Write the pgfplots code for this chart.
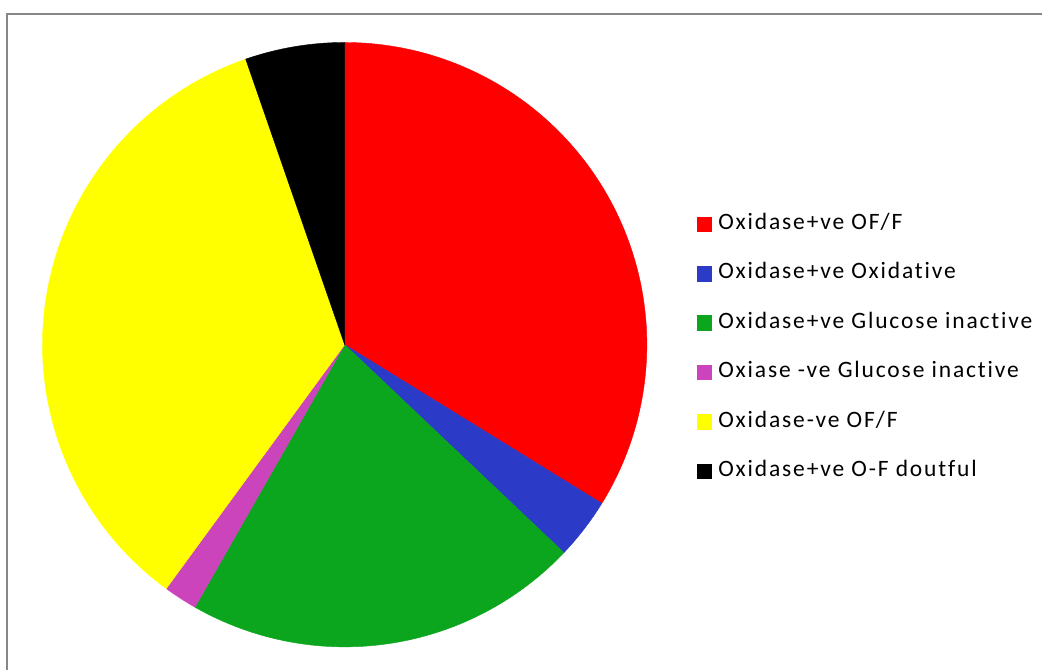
\documentclass[border=0pt]{standalone}
\usepackage{pgfplots}
\pgfplotsset{compat=1.18}
\usepackage{pgfplotstable}
\usepackage{fontspec}
\setmainfont{Carlito}[LetterSpace=7.9, Ligatures=NoCommon]

\definecolor{c0}{RGB}{255,0,0}
\definecolor{c1}{RGB}{44,58,200}
\definecolor{c2}{RGB}{12,166,30}
\definecolor{c3}{RGB}{204,68,188}
\definecolor{c4}{RGB}{255,255,0}
\definecolor{c5}{RGB}{0,0,0}
\definecolor{framegray}{RGB}{135,135,135}

\pgfplotstableread[col sep=comma]{
share,label
33.80,Oxidase+ve OF/F
3.28,Oxidase+ve Oxidative
21.17,Oxidase+ve Glucose inactive
1.80,Oxiase -ve Glucose inactive
34.64,Oxidase-ve OF/F
5.31,Oxidase+ve O-F doutful
}\piedata

\begin{document}
\begin{tikzpicture}[x=1pt,y=1pt]
\fill[white] (0,0) rectangle (1043,671);
\draw[framegray, line width=2pt] (7,0) -- (7,657) -- (1043,657);
\begin{axis}[
  at={(345pt,326pt)}, anchor=center,
  width=605pt, height=605pt, scale only axis,
  xmin=-1, xmax=1, ymin=-1, ymax=1,
  hide axis, clip=false,
  legend image code/.code={\fill[#1] (0pt,-7.25pt) rectangle (14.5pt,7.25pt);},
  legend cell align=left,
  legend style={at={(axis cs:1.1636,-0.0099)}, anchor=west, draw=none, fill=none,
    inner sep=0pt, row sep=28.5pt,
    nodes={inner sep=0pt, text height=16pt, text depth=5pt},
    /tikz/every odd column/.style={column sep=7pt},
    font=\fontsize{23.5}{28}\selectfont},
]
\def\cum{0}
\pgfplotsforeachungrouped \i in {0,...,5}{%
  \pgfplotstablegetelem{\i}{share}\of\piedata
  \let\v\pgfplotsretval
  \pgfplotstablegetelem{\i}{label}\of\piedata
  \let\lab\pgfplotsretval
  \pgfmathsetmacro\a{90-3.6*\cum}%
  \pgfmathsetmacro\newcum{\cum+\v}%
  \pgfmathsetmacro\b{90-3.6*\newcum}%
  \let\cum\newcum
  \edef\doplot{\noexpand\addplot[fill=c\i, draw=c\i, line width=0.4pt, domain=\a:\b, samples=90]
    ({cos(x)},{sin(x)}) -- (axis cs:0,0) -- cycle;
    \noexpand\addlegendentry{\lab}}%
  \doplot
}
\end{axis}
\end{tikzpicture}
\end{document}
